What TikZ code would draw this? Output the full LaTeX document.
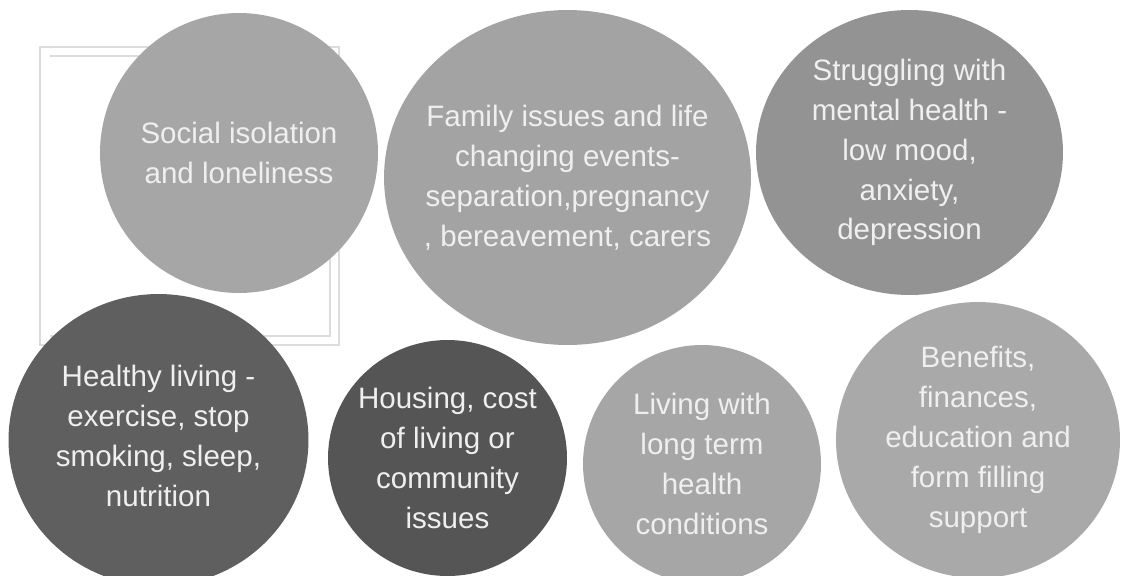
\documentclass[tikz,border=0pt]{standalone}
\usepackage{xcolor}
\definecolor{g1}{HTML}{a6a6a6}
\definecolor{g2}{HTML}{a3a3a3}
\definecolor{g3}{HTML}{939393}
\definecolor{g4}{HTML}{5f5f5f}
\definecolor{g5}{HTML}{555555}
\definecolor{g6}{HTML}{a9a9a9}
\definecolor{frame}{HTML}{dcdcdc}
\definecolor{txt}{HTML}{efefef}
\usepackage{fontspec}
\setmainfont{Liberation Sans}
\usepackage{tikz}
\usetikzlibrary{shapes.geometric}

\begin{document}
\begin{tikzpicture}[x=0.02cm, y=-0.02cm,
        bubble/.style={ellipse, inner sep=0pt},
        words/.style={align=center, text=txt, inner sep=0pt,
            font=\fontsize{16.8}{22.7}\selectfont}]
            \useasboundingbox (0, 0) rectangle (1121, 575);
            \clip (0, 0) rectangle (1121, 575);
            \fill[white] (0, 0) rectangle (1121, 575);

            % faint frame behind the first bubble
            \draw[frame, line width=0.6pt] (40, 47) rectangle (339, 345);
            \draw[frame, line width=0.6pt] (50, 56) -- (330, 56) -- (330, 336) -- (50, 336);

            \node (social) at (239, 153) [bubble, fill=g1, minimum width=5.56cm, minimum height=5.6cm,
                label={[words]center:{Social isolation\\and loneliness}}] {};
            \node (family) at (567.5, 177.5) [bubble, fill=g2, minimum width=7.34cm, minimum height=6.7cm,
                label={[words]center:{Family issues and life\\changing events-\\separation,pregnancy\\, bereavement, carers}}] {};
            \node (mental) at (909.5, 152.5) [bubble, fill=g3, minimum width=6.14cm, minimum height=5.7cm,
                label={[words]center:{Struggling with\\mental health -\\low mood,\\anxiety,\\depression}}] {};

            \node (healthy) at (158.5, 440) [bubble, fill=g4, minimum width=6cm, minimum height=5.84cm,
                label={[words, yshift=0.08cm]center:{Healthy living -\\exercise, stop\\smoking, sleep,\\nutrition}}] {};
            \node (housing) at (447.5, 458) [bubble, fill=g5, minimum width=4.78cm, minimum height=4.72cm,
                label={[words]center:{Housing, cost\\of living or\\community\\issues}}] {};
            \node (longterm) at (702, 464) [bubble, fill=g1, minimum width=4.76cm, minimum height=4.76cm,
                label={[words]center:{Living with\\long term\\health\\conditions}}] {};
            \node (benefits) at (978, 440) [bubble, fill=g6, minimum width=5.68cm, minimum height=5.52cm,
                label={[words]center:{Benefits,\\finances,\\education and\\form filling\\support}}] {};
        \end{tikzpicture}
\end{document}
